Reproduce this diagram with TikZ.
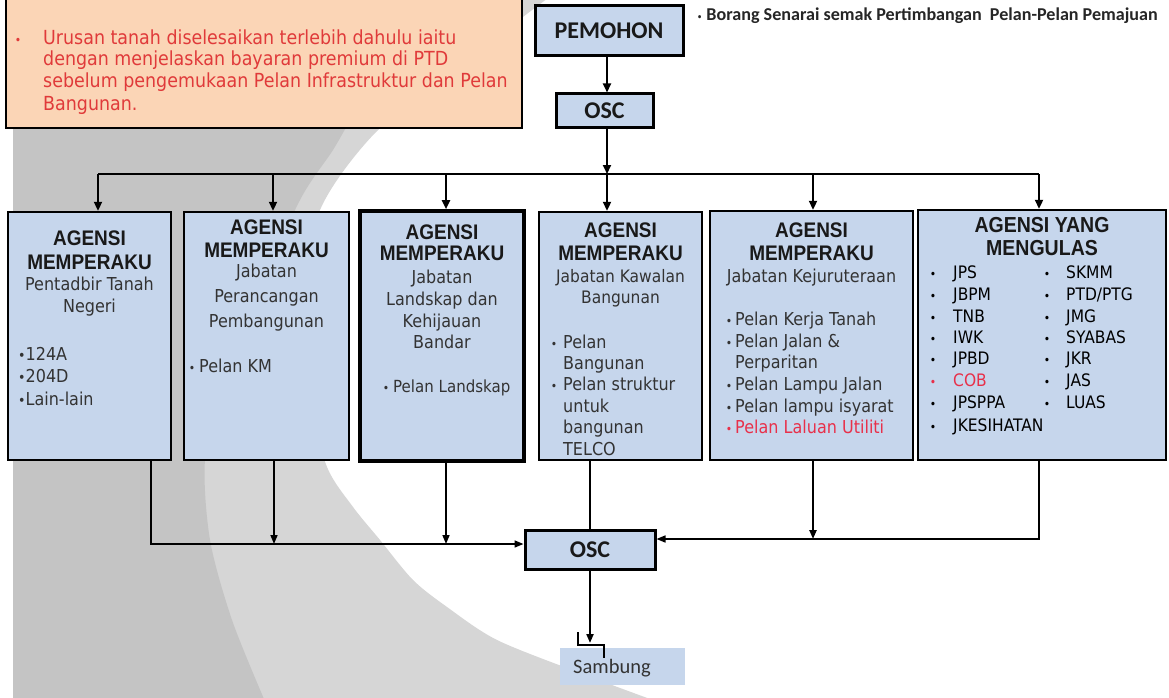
\documentclass[tikz,border=0pt]{standalone}
\usepackage{fontspec}
\usetikzlibrary{arrows.meta}
\newfontfamily\tahfont[FakeStretch=0.9]{DejaVu Sans}
\newfontfamily\arifont[FakeStretch=0.9]{Liberation Sans}
\newfontfamily\calfont{Carlito}
\definecolor{boxblue}{HTML}{C6D6EC}
\definecolor{peach}{HTML}{FBD5B6}
\definecolor{redtxt}{HTML}{E03A3A}
\definecolor{hotred}{HTML}{E8304A}
\definecolor{gdark}{HTML}{C4C4C4}
\definecolor{glight}{HTML}{D6D6D6}
\definecolor{txt}{HTML}{333333}
\newcommand\mybullet{{\fontsize{12}{12}\selectfont•}}
\begin{document}
\begin{tikzpicture}[x=1pt,y=-1pt,
  bx/.style={draw=black, line width=2.4pt, fill=boxblue, inner sep=0pt},
  hdr/.style={font=\arifont\bfseries\fontsize{21.1}{24}\selectfont, anchor=base, inner sep=0pt, text=black!90},
  bd/.style={font=\tahfont\fontsize{17.8}{20}\selectfont, anchor=base, inner sep=0pt, text=txt},
  bdl/.style={bd, anchor=base west},
  bul/.style={font=\tahfont\fontsize{12}{12}\selectfont, anchor=base, inner sep=0pt, text=txt},
  lst/.style={font=\tahfont\fontsize{17.2}{19}\selectfont, anchor=base west, inner sep=0pt, text=black},
  ot/.style={font=\tahfont\fontsize{19.4}{21}\selectfont, anchor=base west, inner sep=0pt, text=redtxt},
  cb/.style={draw=black, line width=3pt, fill=boxblue, inner sep=0pt, font=\calfont\bfseries\fontsize{24}{28}\selectfont, text=black!90},
  arrtop/.style={-{Triangle[length=9pt,width=8pt]}, line width=2pt},
  arrbot/.style={-{Triangle[length=9pt,width=7pt]}, line width=1.6pt}
]
\useasboundingbox (0,0) rectangle (1169,698);
\fill[white] (0,0) rectangle (1169,698);
% background swoosh
\fill[glight] (13,-2) -- plot[smooth] coordinates {(548,-2) (460,65) (375,133) (320,210) (305,300) (310,400) (327,467) (353,507) (380,540) (413,580) (447,607) (497,640) (580,673) (650,699)} -- (13,699) -- cycle;
\fill[gdark] (13,120) -- plot[smooth] coordinates {(350,120) (333,150) (300,200) (255,300) (222,390) (205,460) (210,540) (232,620) (264,699)} -- (13,699) -- cycle;

% note box
\node[draw=black, line width=2pt, fill=peach, minimum width=516pt, minimum height=140pt, inner sep=0pt] (note) at (264,58) {};
\node[ot, text=redtxt, anchor=base] (nb) at (18,45) {\mybullet};
\node[ot] (n1) at (43,45) {Urusan tanah diselesaikan terlebih dahulu iaitu};
\node[ot] (n2) at (43,66) {dengan menjelaskan bayaran premium di PTD};
\node[ot] (n3) at (43,88) {sebelum pengemukaan Pelan Infrastruktur dan Pelan};
\node[ot] (n4) at (43,111) {Bangunan.};

% top
\node[cb, minimum width=148pt, minimum height=50pt] (pem) at (609,31) {PEMOHON};
\node[cb, minimum width=97pt, minimum height=34pt] (osc1) at (604.5,111) {OSC};
\node[anchor=base west, inner sep=0pt, font=\calfont\bfseries\fontsize{18.1}{20}\selectfont, text=black!85] (bor) at (697,21) {{\tahfont\fontsize{9}{9}\selectfont•}\ Borang Senarai semak Pertimbangan\ \ Pelan-Pelan Pemajuan};

% agency boxes
\node[bx, minimum width=163pt, minimum height=248pt] (b1) at (89.5,336) {};
\node[bx, minimum width=165pt, minimum height=248pt] (b2) at (266.5,336) {};
\node[bx, line width=3.6pt, minimum width=164pt, minimum height=250pt] (b3) at (442,336) {};
\node[bx, minimum width=163pt, minimum height=248pt] (b4) at (620.5,336) {};
\node[bx, minimum width=203pt, minimum height=249pt] (b5) at (811.5,335.5) {};
\node[bx, minimum width=248pt, minimum height=250pt] (b6) at (1042,335) {};

\node[cb, minimum width=130pt, minimum height=39pt] (osc2) at (590,549.5) {OSC};
\node[fill=boxblue, minimum width=125pt, minimum height=37pt, inner sep=0pt] (sam) at (622.5,666.5) {};
\node[anchor=base west, inner sep=0pt, font=\calfont\fontsize{20.5}{22}\selectfont, text=txt] (samt) at (573,673) {Sambung};

% coordinates
\coordinate (j) at (607,174);
\coordinate (t1) at (98,174);
\coordinate (t2) at (273,174);
\coordinate (t3) at (446,174);
\coordinate (t5) at (813,174);
\coordinate (t6) at (1039,174);
\coordinate (u1) at (151,544);
\coordinate (u2) at (274,544);
\coordinate (u3) at (446,544);
\coordinate (u5) at (813,539);
\coordinate (u6) at (1039,539);
\coordinate (s1) at (590,643);
\coordinate (k1) at (578,632);
\coordinate (k2) at (604,645);
\coordinate (k3) at (604,658);

% connectors
\draw[arrtop] (pem.south -| j) -- (osc1.north -| j);
\draw[arrtop] (osc1.south -| j) -- (j);
\draw[line width=2pt] (t1) -- (t6);
\draw[arrtop] (t1) -- (t1 |- b1.north);
\draw[arrtop] (t2) -- (t2 |- b2.north);
\draw[arrtop] (t3) -- (t3 |- b3.north);
\draw[arrtop] (j) -- (j |- b4.north);
\draw[arrtop] (t5) -- (t5 |- b5.north);
\draw[arrtop] (t6) -- (t6 |- b6.north);

\draw[arrbot] (b1.south -| u1) -- (u1) -- (u1 -| osc2.west);
\draw[arrbot] (b2.south -| u2) -- (u2);
\draw[arrbot] (b3.south -| u3) -- (u3);
\draw[line width=1.6pt] (b4.south -| osc2.north) -- (osc2.north);
\draw[arrbot, line width=2.6pt] (b5.south -| u5) -- (u5);
\draw[arrbot] (b6.south -| u6) -- (u6) -- (u6 -| osc2.east);
\draw[arrbot, line width=2pt] (osc2.south) -- (s1);
\draw[line width=2.5pt] (k1) -- (k1 |- k2) -- (k2) -- (k3);

% box 1
\node[hdr] (h1a) at (89.5,245) {AGENSI};
\node[hdr] (h1b) at (89.5,269) {MEMPERAKU};
\node[bd] (s1a) at (89.5,290) {Pentadbir Tanah};
\node[bd] (s1b) at (89.5,312) {Negeri};
\node[bdl] (l1a) at (18,360) {{\fontsize{14}{14}\selectfont•}124A};
\node[bdl] (l1b) at (18,382) {{\fontsize{14}{14}\selectfont•}204D};
\node[bdl] (l1c) at (18,405) {{\fontsize{14}{14}\selectfont•}Lain-lain};

% box 2
\node[hdr] (h2a) at (266.5,234) {AGENSI};
\node[hdr] (h2b) at (266.5,257) {MEMPERAKU};
\node[bd] (s2a) at (266.5,277) {Jabatan};
\node[bd] (s2b) at (266.5,302) {Perancangan};
\node[bd] (s2c) at (266.5,327) {Pembangunan};
\node[bul] (p2a) at (192,372) {•};
\node[bdl] (l2a) at (199,372) {Pelan KM};

% box 3
\node[hdr] (h3a) at (442,239) {AGENSI};
\node[hdr] (h3b) at (442,260) {MEMPERAKU};
\node[bd] (s3a) at (442,283) {Jabatan};
\node[bd] (s3b) at (442,305) {Landskap dan};
\node[bd] (s3c) at (442,327) {Kehijauan};
\node[bd] (s3d) at (442,348) {Bandar};
\node[bul] (p3a) at (386,392) {•};
\node[bdl, font=\tahfont\fontsize{16.7}{18}\selectfont] (l3a) at (393,392) {Pelan Landskap};

% box 4
\node[hdr] (h4a) at (620.5,237) {AGENSI};
\node[hdr] (h4b) at (620.5,260) {MEMPERAKU};
\node[bd, font=\tahfont\fontsize{17.2}{18}\selectfont] (s4a) at (620.5,282) {Jabatan Kawalan};
\node[bd, font=\tahfont\fontsize{17.2}{18}\selectfont] (s4b) at (620.5,303) {Bangunan};
\node[bul] (p4a) at (554,348) {•};
\node[bdl] (l4a) at (563,348) {Pelan};
\node[bdl] (l4b) at (563,369) {Bangunan};
\node[bul] (p4b) at (554,390) {•};
\node[bdl] (l4c) at (563,390) {Pelan struktur};
\node[bdl] (l4d) at (563,412) {untuk};
\node[bdl] (l4e) at (563,433) {bangunan};
\node[bdl] (l4f) at (563,455) {TELCO};

% box 5
\node[hdr] (h5a) at (811.5,237) {AGENSI};
\node[hdr] (h5b) at (811.5,260) {MEMPERAKU};
\node[bd] (s5a) at (811.5,282) {Jabatan Kejuruteraan};
\node[bul] (p5a) at (729,325) {•};
\node[bdl] (l5a) at (735,325) {Pelan Kerja Tanah};
\node[bul] (p5b) at (729,347) {•};
\node[bdl] (l5b) at (735,347) {Pelan Jalan \&};
\node[bdl] (l5c) at (735,368) {Perparitan};
\node[bul] (p5d) at (729,390) {•};
\node[bdl] (l5d) at (735,390) {Pelan Lampu Jalan};
\node[bul] (p5e) at (729,412) {•};
\node[bdl] (l5e) at (735,412) {Pelan lampu isyarat};
\node[bul, text=hotred] (p5f) at (729,433) {•};
\node[bdl, text=hotred] (l5f) at (735,433) {Pelan Laluan Utiliti};

% box 6
\node[hdr, font=\arifont\bfseries\fontsize{21.7}{24}\selectfont] (h6a) at (1042,232) {AGENSI YANG};
\node[hdr, font=\arifont\bfseries\fontsize{21.7}{24}\selectfont] (h6b) at (1042,255) {MENGULAS};
\foreach \t/\y/\c [count=\i] in {JPS/278/black, JBPM/300/black, TNB/322/black, IWK/343/black, JPBD/364/black, COB/386/hotred, JPSPPA/408/black, JKESIHATAN/431/black} {
  \node[bul, text=\c] (la\i) at (933,\y) {•};
  \node[lst, text=\c] (lt\i) at (953,\y) {\t};
}
\foreach \t/\y [count=\i] in {SKMM/278, PTD\slash PTG/300, JMG/322, SYABAS/343, JKR/364, JAS/386, LUAS/408} {
  \node[bul, text=black] (ra\i) at (1047,\y) {•};
  \node[lst] (rt\i) at (1066,\y) {\t};
}
\end{tikzpicture}
\end{document}
